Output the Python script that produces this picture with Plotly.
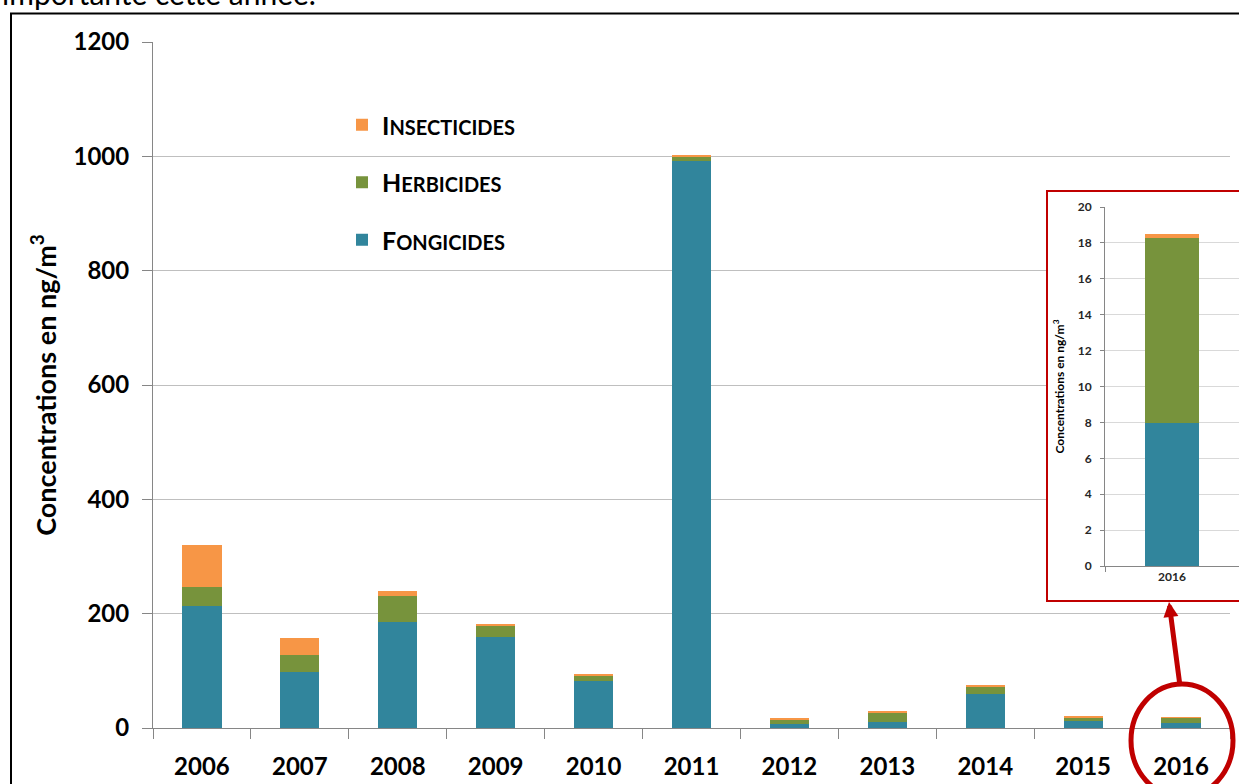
import plotly.graph_objects as go

years = ['2006', '2007', '2008', '2009', '2010', '2011', '2012', '2013', '2014', '2015', '2016']
fongicides = [213, 98, 185, 160, 82, 992, 7, 10, 59, 12, 8]
herbicides = [34, 30, 46, 19, 10, 8, 8, 17, 13, 7, 10.3]
insecticides = [73, 29, 9, 2, 2, 2, 1.5, 1.5, 3.5, 1, 0.2]

inset_year = ['2016']
inset_f = [7.95]
inset_h = [10.35]
inset_i = [0.2]

C_F = '#31859C'
C_H = '#77933C'
C_I = '#F79646'
RED = '#C00000'
FONT = 'Lato'

W, H = 1239, 784
L, R, T, B = 153, 0, 42, 56
PW = W - L - R
PH = H - T - B


def px(x):
    return (x - L) / PW


def py(y):
    return (H - B - y) / PH


fig = go.Figure()

names = {
    'F': 'F<span style="font-size:20px">ONGICIDES</span>',
    'H': 'H<span style="font-size:20px">ERBICIDES</span>',
    'I': 'I<span style="font-size:20px">NSECTICIDES</span>',
}
ranks = {'I': 1, 'H': 2, 'F': 3}

for key, vals, col in [('F', fongicides, C_F), ('H', herbicides, C_H), ('I', insecticides, C_I)]:
    fig.add_trace(go.Bar(x=years, y=vals, name=names[key], marker=dict(color=col, line=dict(width=0)),
                         width=0.4, legendgroup=key, legendrank=ranks[key]))

# dummy subplot giving the inset its white background
fig.add_trace(go.Scatter(x=[], y=[], xaxis='x2', yaxis='y2', showlegend=False))

for vals, col in [(inset_f, C_F), (inset_h, C_H), (inset_i, C_I)]:
    fig.add_trace(go.Bar(x=inset_year, y=vals, marker=dict(color=col, line=dict(width=0)), width=0.4,
                         xaxis='x3', yaxis='y3', showlegend=False))

fig.update_layout(
    width=W, height=H,
    margin=dict(l=L, r=R, t=T, b=B),
    paper_bgcolor='white', plot_bgcolor='white',
    barmode='stack',
    font=dict(family=FONT, color='black'),
    showlegend=True,
    legend=dict(x=px(342), y=py(102), xanchor='left', yanchor='top', traceorder='grouped',
                tracegroupgap=22, font=dict(family=FONT, size=25, color='black', weight='bold'),
                bgcolor='rgba(0,0,0,0)'),
    xaxis=dict(domain=[0, px(1230)], type='category', showline=True, linecolor='#868686', linewidth=1,
               ticks='outside', tickson='boundaries', ticklen=10, tickcolor='#868686',
               tickfont=dict(family=FONT, size=24, color='black', weight='bold'),
               ticklabelstandoff=17, showgrid=False),
    yaxis=dict(domain=[0, 1], range=[0, 1200], dtick=200, showline=True, linecolor='#868686', linewidth=1,
               ticks='outside', ticklen=10, tickcolor='#868686', gridcolor='#BFBFBF', gridwidth=1,
               tickfont=dict(family=FONT, size=24, color='black', weight='bold'), ticklabelstandoff=8,
               title=dict(text='Concentrations en ng/m<sup>3</sup>', standoff=9,
                          font=dict(family=FONT, size=27, color='black', weight='bold')),
               zeroline=False),
    xaxis2=dict(domain=[px(1047), 1.0], anchor='y2', visible=False, range=[0, 1]),
    yaxis2=dict(domain=[py(601), py(191)], anchor='x2', visible=False, range=[0, 1]),
    xaxis3=dict(domain=[px(1105), 1.0], anchor='y3', type='category', showline=True, linecolor='#868686',
                ticks='outside', tickson='boundaries', ticklen=5, tickcolor='#868686',
                tickfont=dict(family=FONT, size=12, color='#262626', weight='bold'), showgrid=False),
    yaxis3=dict(domain=[py(566), py(207)], anchor='x3', range=[0, 20], dtick=2, showline=True,
                linecolor='#868686', ticks='outside', ticklen=4, tickcolor='#868686', gridcolor='#D9D9D9',
                tickfont=dict(family=FONT, size=12, color='#262626', weight='bold'), zeroline=False,
                ticklabelstandoff=6,
                title=dict(text='Concentrations en ng/m<sup>3</sup>', standoff=10,
                           font=dict(family=FONT, size=12, color='black', weight='bold'))),
    shapes=[
        dict(type='rect', xref='paper', yref='paper', x0=px(11), x1=1.05, y0=-0.3, y1=py(13.5),
             line=dict(color='black', width=2), fillcolor='rgba(0,0,0,0)', layer='above'),
        dict(type='rect', xref='paper', yref='paper', x0=px(1047), x1=1.05, y0=py(601), y1=py(191),
             line=dict(color=RED, width=2), fillcolor='rgba(0,0,0,0)', layer='above'),
        dict(type='circle', xref='paper', yref='paper', x0=px(1131), x1=px(1233), y0=py(797), y1=py(684),
             line=dict(color=RED, width=5), fillcolor='rgba(0,0,0,0)', layer='above'),
    ],
    annotations=[
        dict(text='', xref='paper', yref='paper', x=px(1169), y=py(602), ax=11, ay=84,
             showarrow=True, arrowhead=2, arrowsize=0.6, arrowwidth=5, arrowcolor=RED),
        dict(text='importante cette année.', xref='paper', yref='paper', x=px(0), y=py(13),
             xanchor='left', yanchor='bottom', showarrow=False,
             font=dict(family=FONT, size=30, color='black')),
    ],
)

fig.write_html('out.html', config={'displayModeBar': False},
               post_script="document.body.style.margin='0';")
